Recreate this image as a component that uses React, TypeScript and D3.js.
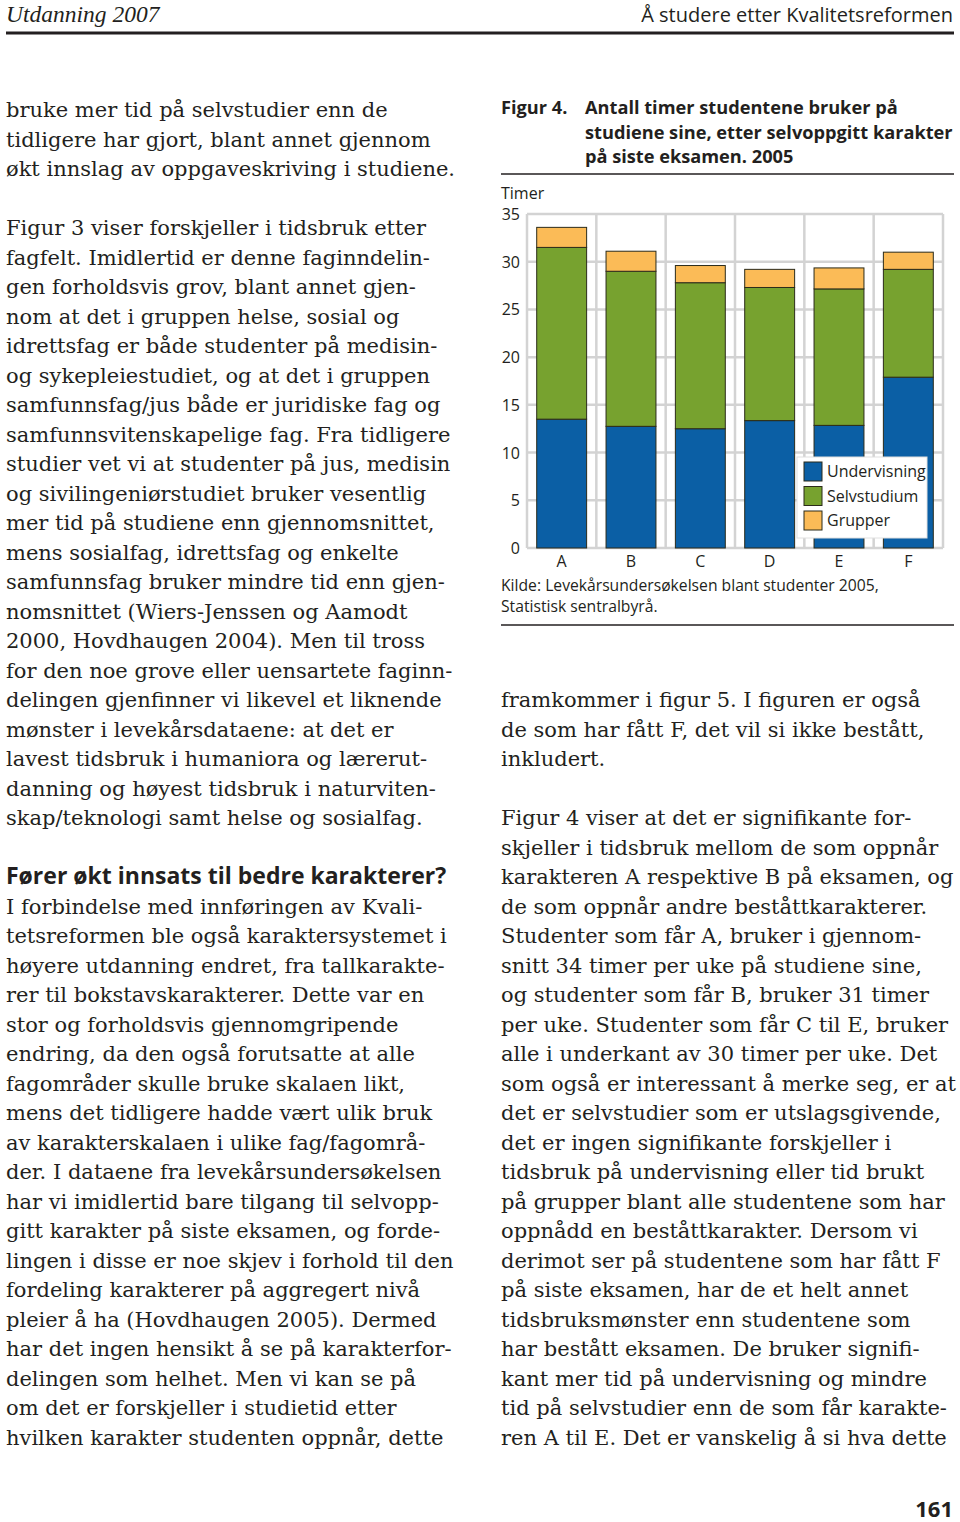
import React from "react";
import * as d3 from "d3";

const grades = ["A", "B", "C", "D", "E", "F"];
const undervisning = [13.5, 12.75, 12.5, 13.35, 12.85, 17.9];
const selvstudium = [18.0, 16.25, 15.3, 13.95, 14.3, 11.3];
const grupper = [2.1, 2.1, 1.8, 1.9, 2.2, 1.8];
const yTicks = [0, 5, 10, 15, 20, 25, 30, 35];
const seriesNames = ["Undervisning", "Selvstudium", "Grupper"];
const seriesColors = ["#0b5fa5", "#77a22f", "#fbbb57"];

const leftLines: [number, string][] = [
  [0, "bruke mer tid på selvstudier enn de"],
  [1, "tidligere har gjort, blant annet gjennom"],
  [2, "økt innslag av oppgaveskriving i studiene."],
  [4, "Figur 3 viser forskjeller i tidsbruk etter"],
  [5, "fagfelt. Imidlertid er denne faginndelin-"],
  [6, "gen forholdsvis grov, blant annet gjen-"],
  [7, "nom at det i gruppen helse, sosial og"],
  [8, "idrettsfag er både studenter på medisin-"],
  [9, "og sykepleiestudiet, og at det i gruppen"],
  [10, "samfunnsfag/jus både er juridiske fag og"],
  [11, "samfunnsvitenskapelige fag. Fra tidligere"],
  [12, "studier vet vi at studenter på jus, medisin"],
  [13, "og sivilingeniørstudiet bruker vesentlig"],
  [14, "mer tid på studiene enn gjennomsnittet,"],
  [15, "mens sosialfag, idrettsfag og enkelte"],
  [16, "samfunnsfag bruker mindre tid enn gjen-"],
  [17, "nomsnittet (Wiers-Jenssen og Aamodt"],
  [18, "2000, Hovdhaugen 2004). Men til tross"],
  [19, "for den noe grove eller uensartete faginn-"],
  [20, "delingen gjenfinner vi likevel et liknende"],
  [21, "mønster i levekårsdataene: at det er"],
  [22, "lavest tidsbruk i humaniora og lærerut-"],
  [23, "danning og høyest tidsbruk i naturviten-"],
  [24, "skap/teknologi samt helse og sosialfag."],
  [27, "I forbindelse med innføringen av Kvali-"],
  [28, "tetsreformen ble også karaktersystemet i"],
  [29, "høyere utdanning endret, fra tallkarakte-"],
  [30, "rer til bokstavskarakterer. Dette var en"],
  [31, "stor og forholdsvis gjennomgripende"],
  [32, "endring, da den også forutsatte at alle"],
  [33, "fagområder skulle bruke skalaen likt,"],
  [34, "mens det tidligere hadde vært ulik bruk"],
  [35, "av karakterskalaen i ulike fag/fagområ-"],
  [36, "der. I dataene fra levekårsundersøkelsen"],
  [37, "har vi imidlertid bare tilgang til selvopp-"],
  [38, "gitt karakter på siste eksamen, og forde-"],
  [39, "lingen i disse er noe skjev i forhold til den"],
  [40, "fordeling karakterer på aggregert nivå"],
  [41, "pleier å ha (Hovdhaugen 2005). Dermed"],
  [42, "har det ingen hensikt å se på karakterfor-"],
  [43, "delingen som helhet. Men vi kan se på"],
  [44, "om det er forskjeller i studietid etter"],
  [45, "hvilken karakter studenten oppnår, dette"],
];

const rightLines: [number, string][] = [
  [20, "framkommer i figur 5. I figuren er også"],
  [21, "de som har fått F, det vil si ikke bestått,"],
  [22, "inkludert."],
  [24, "Figur 4 viser at det er signifikante for-"],
  [25, "skjeller i tidsbruk mellom de som oppnår"],
  [26, "karakteren A respektive B på eksamen, og"],
  [27, "de som oppnår andre beståttkarakterer."],
  [28, "Studenter som får A, bruker i gjennom-"],
  [29, "snitt 34 timer per uke på studiene sine,"],
  [30, "og studenter som får B, bruker 31 timer"],
  [31, "per uke. Studenter som får C til E, bruker"],
  [32, "alle i underkant av 30 timer per uke. Det"],
  [33, "som også er interessant å merke seg, er at"],
  [34, "det er selvstudier som er utslagsgivende,"],
  [35, "det er ingen signifikante forskjeller i"],
  [36, "tidsbruk på undervisning eller tid brukt"],
  [37, "på grupper blant alle studentene som har"],
  [38, "oppnådd en beståttkarakter. Dersom vi"],
  [39, "derimot ser på studentene som har fått F"],
  [40, "på siste eksamen, har de et helt annet"],
  [41, "tidsbruksmønster enn studentene som"],
  [42, "har bestått eksamen. De bruker signifi-"],
  [43, "kant mer tid på undervisning og mindre"],
  [44, "tid på selvstudier enn de som får karakte-"],
  [45, "ren A til E. Det er vanskelig å si hva dette"],
];

const titleLines = [
  "Antall timer studentene bruker på",
  "studiene sine, etter selvoppgitt karakter",
  "på siste eksamen. 2005",
];

const SANS = "'Open Sans', 'Noto Sans', sans-serif";
const SERIF = "'DejaVu Serif', 'Liberation Serif', serif";
const ITALIC_SERIF = "'Liberation Serif', serif";
const INK = "#231f20";
const BODY_SIZE = 21;

export default function App() {
  const lineY = (k: number) => 117 + 29.5 * k;

  const x = d3
    .scaleBand<string>()
    .domain(grades)
    .range([527, 943])
    .paddingInner(0.28)
    .paddingOuter(0.14);
  const xGrid = d3.scaleBand<string>().domain(grades).range([527, 943]).padding(0);
  const y = d3.scaleLinear().domain([0, 35]).range([548, 214]);

  const table = grades.map((g, i) => ({
    grade: g,
    Undervisning: undervisning[i],
    Selvstudium: selvstudium[i],
    Grupper: grupper[i],
  }));
  const stacked = d3.stack<any>().keys(seriesNames)(table);

  const gridXs = grades.map((g) => xGrid(g) as number).concat([943]);

  return (
    <svg
      width={960}
      height={1522}
      style={{ position: "absolute", left: 0, top: 0, background: "#fff" }}
    >
      <rect x={0} y={0} width={960} height={1522} fill="#fff" />
      {/* header */}
      <text x={6} y={22} fontFamily={ITALIC_SERIF} fontStyle="italic" fontSize={23.5} fill={INK}>
        Utdanning 2007
      </text>
      <text x={953} y={22} textAnchor="end" fontFamily={SANS} fontSize={20} fill={INK}>
        Å studere etter Kvalitetsreformen
      </text>
      <line x1={6} x2={954} y1={33} y2={33} stroke={INK} strokeWidth={3} />

      {/* left column */}
      {leftLines.map(([k, t]) => (
        <text key={"l" + k} x={6} y={lineY(k)} fontFamily={SERIF} fontSize={BODY_SIZE} fill={INK}>
          {t}
        </text>
      ))}
      <text x={6} y={lineY(26)} fontFamily={SANS} fontWeight="bold" fontSize={23} fill={INK}>
        Fører økt innsats til bedre karakterer?
      </text>

      {/* right column text */}
      {rightLines.map(([k, t]) => (
        <text key={"r" + k} x={501} y={lineY(k)} fontFamily={SERIF} fontSize={BODY_SIZE} fill={INK}>
          {t}
        </text>
      ))}

      {/* figure title */}
      <text x={501} y={114} fontFamily={SANS} fontWeight="bold" fontSize={18.2} fill={INK}>
        Figur 4.
      </text>
      {titleLines.map((t, i) => (
        <text key={"t" + i} x={585} y={114 + i * 24.5} fontFamily={SANS} fontWeight="bold" fontSize={18.2} fill={INK}>
          {t}
        </text>
      ))}
      <line x1={501} x2={954} y1={174} y2={174} stroke={INK} strokeWidth={1.5} />

      {/* chart */}
      <text x={501} y={199} fontFamily={SANS} fontSize={16} fill={INK}>
        Timer
      </text>
      {yTicks.map((t) => (
        <g key={"yt" + t}>
          <line x1={527} x2={943} y1={y(t)} y2={y(t)} stroke="#d3d3d3" strokeWidth={2.5} />
          <text x={520} y={y(t) + 6} textAnchor="end" fontFamily={SANS} fontSize={16} fill={INK}>
            {t}
          </text>
        </g>
      ))}
      {gridXs.map((gx, i) => (
        <line key={"gx" + i} x1={gx} x2={gx} y1={y(35)} y2={y(0)} stroke="#d3d3d3" strokeWidth={2.5} />
      ))}
      {stacked.map((s, si) => (
        <g key={"s" + si}>
          {s.map((d, i) => (
            <rect
              key={i}
              x={x(grades[i])}
              y={y(d[1])}
              width={x.bandwidth()}
              height={y(d[0]) - y(d[1])}
              fill={seriesColors[si]}
              stroke="#2b2b1a"
              strokeWidth={1}
            />
          ))}
        </g>
      ))}
      {grades.map((g) => (
        <text
          key={"xl" + g}
          x={(x(g) as number) + x.bandwidth() / 2}
          y={567}
          textAnchor="middle"
          fontFamily={SANS}
          fontSize={16}
          fill={INK}
        >
          {g}
        </text>
      ))}

      {/* legend */}
      <rect x={797} y={457} width={130} height={81} fill="#fff" stroke="#e0e0e0" strokeWidth={1} />
      {seriesNames.map((n, i) => (
        <g key={"lg" + n}>
          <rect x={804} y={462 + i * 24.5} width={18} height={19} fill={seriesColors[i]} stroke="#2b2b1a" strokeWidth={1} />
          <text x={827} y={477 + i * 24.5} fontFamily={SANS} fontSize={16} fill={INK}>
            {n}
          </text>
        </g>
      ))}

      {/* source */}
      <text x={501} y={591} fontFamily={SANS} fontSize={15.7} fill={INK}>
        Kilde: Levekårsundersøkelsen blant studenter 2005,
      </text>
      <text x={501} y={612} fontFamily={SANS} fontSize={15.7} fill={INK}>
        Statistisk sentralbyrå.
      </text>
      <line x1={501} x2={954} y1={625} y2={625} stroke={INK} strokeWidth={1.5} />

      {/* page number */}
      <text x={953} y={1517} textAnchor="end" fontFamily={SANS} fontWeight="bold" fontSize={22} fill={INK}>
        161
      </text>
    </svg>
  );
}
